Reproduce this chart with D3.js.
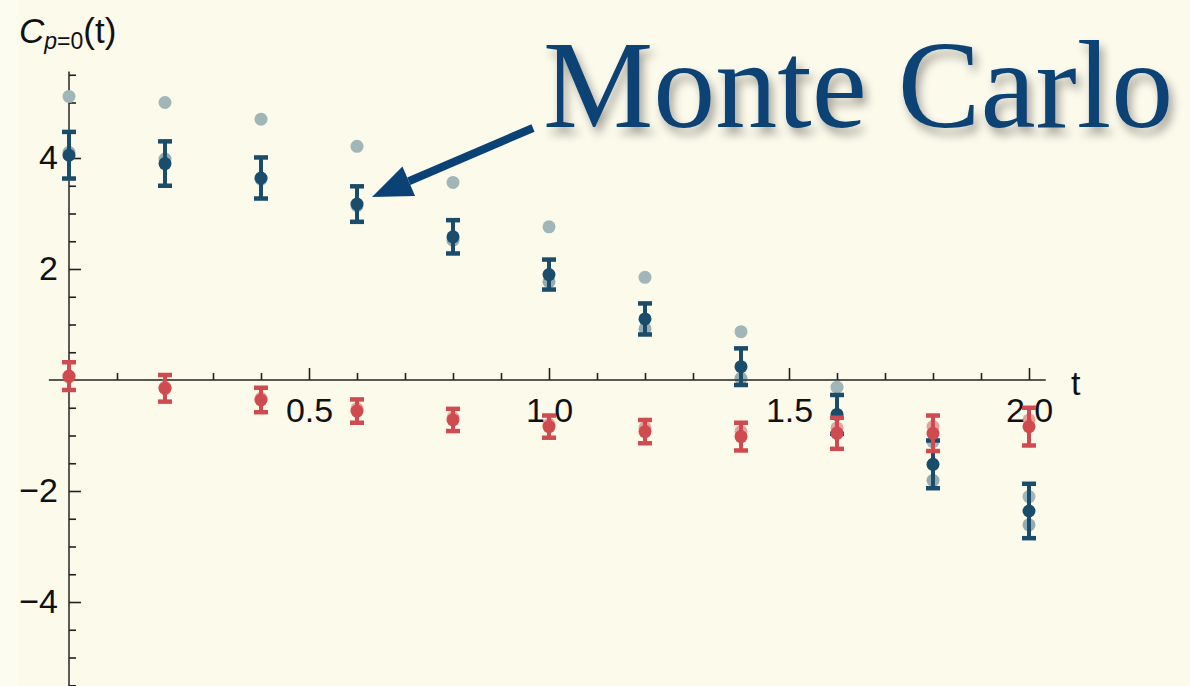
<!DOCTYPE html>
<html>
<head>
<meta charset="utf-8">
<script src="https://cdn.jsdelivr.net/npm/d3@7"></script>
<style>
  html, body { margin: 0; padding: 0; background: #fcfaeb; }
  svg { display: block; }
</style>
</head>
<body>
<svg id="chart" width="1190" height="686"></svg>
<script>
// Euclidean time steps
const times = [0, 0.2, 0.4, 0.6, 0.8, 1.0, 1.2, 1.4, 1.6, 1.8, 2.0];

// Monte Carlo estimate (with statistical errors)
const mcMean = [4.05, 3.90, 3.64, 3.17, 2.58, 1.90, 1.10, 0.24, -0.62, -1.52, -2.36];
const mcErr  = [0.42, 0.40, 0.37, 0.32, 0.30, 0.27, 0.28, 0.33, 0.35, 0.43, 0.49];

// Reference curves drawn as faded points
const upperRef = [5.11, 5.00, 4.70, 4.21, 3.56, 2.76, 1.85, 0.87, -0.13, -1.11, -2.10];
const lowerRef = [4.10, 3.98, 3.62, 3.14, 2.52, 1.77, 0.92, 0.03, -0.95, -1.81, -2.61];

// Second correlator (red)
const redMean  = [0.07, -0.15, -0.36, -0.56, -0.72, -0.84, -0.93, -1.02, -0.96, -0.96, -0.84];
const redErr   = [0.25, 0.24, 0.22, 0.21, 0.20, 0.20, 0.21, 0.25, 0.28, 0.32, 0.34];
const redFaded = [0.05, -0.13, -0.33, -0.52, -0.68, -0.80, -0.86, -0.93, -0.86, -0.84, -0.72];

// Tick values
const xMajor = [0.5, 1.0, 1.5, 2.0];
const yMajor = [-4, -2, 2, 4];

const svg = d3.select("#chart");
const W = 1190, H = 686;

const BLUE = "#1a4d6b", GRAY = "#a0b6b9", RED = "#d04b50", INK = "#0b4275";
const FONT = "'Liberation Sans', Arial, sans-serif";

svg.append("rect").attr("width", W).attr("height", H).attr("fill", "#fcfaeb");
svg.append("rect").attr("width", 17).attr("height", H).attr("fill", "#fdfcf1");

const x = d3.scaleLinear().domain([0, 2]).range([69, 1029]);
const y = d3.scaleLinear().domain([0, 4]).range([380, 158]);

const defs = svg.append("defs");
const shadow = defs.append("filter").attr("id", "titleShadow")
  .attr("x", "-10%").attr("y", "-20%").attr("width", "125%").attr("height", "150%");
shadow.append("feDropShadow").attr("dx", 4).attr("dy", 7).attr("stdDeviation", 5)
  .attr("flood-color", "#000").attr("flood-opacity", 0.35);

// ---- axes ----
const axes = svg.append("g");

// x axis line
axes.append("line")
  .attr("x1", x(-0.042)).attr("x2", x(2.035))
  .attr("y1", y(0)).attr("y2", y(0))
  .attr("stroke", "#222").attr("stroke-width", 1.6);

// y axis line
axes.append("line")
  .attr("x1", x(0)).attr("x2", x(0))
  .attr("y1", y(5.56)).attr("y2", y(-5.7))
  .attr("stroke", "#333").attr("stroke-width", 1.6);

// x minor ticks
const xMinor = d3.range(1, 21).map(i => i / 10).filter(v => Math.abs(v * 2 - Math.round(v * 2)) > 1e-6);
const xMinorAxis = d3.axisBottom(x).tickValues(xMinor).tickSize(-7).tickFormat("");
const gxm = axes.append("g").attr("transform", `translate(0,${y(0)})`).call(xMinorAxis);
gxm.select(".domain").remove();

// x major ticks + labels
const xAxis = d3.axisBottom(x).tickValues(xMajor).tickSize(-12).tickPadding(18)
  .tickFormat(d3.format(".1f"));
const gx = axes.append("g").attr("transform", `translate(0,${y(0)})`).call(xAxis);
gx.select(".domain").remove();

// y minor ticks
const yMinor = d3.range(-11, 12).map(i => i / 2).filter(v => v !== 0 && Math.abs(v % 2) > 1e-6);
const yMinorAxis = d3.axisLeft(y).tickValues(yMinor).tickSize(-7).tickFormat("");
const gym = axes.append("g").attr("transform", `translate(${x(0)},0)`).call(yMinorAxis);
gym.select(".domain").remove();

// y major ticks + labels
const yAxis = d3.axisLeft(y).tickValues(yMajor).tickSize(-12).tickPadding(11)
  .tickFormat(d => d < 0 ? "\u2212" + Math.abs(d) : String(d));
const gy = axes.append("g").attr("transform", `translate(${x(0)},0)`).call(yAxis);
gy.select(".domain").remove();

svg.selectAll(".tick line").attr("stroke", "#222").attr("stroke-width", 1.6);

// ---- data ----
const plot = svg.append("g");

function points(vals, color, opacity) {
  plot.append("g").selectAll("circle").data(vals).join("circle")
    .attr("cx", (d, i) => x(times[i]))
    .attr("cy", d => y(d))
    .attr("r", 6.5)
    .attr("fill", color)
    .attr("fill-opacity", opacity);
}

function errorBars(means, errs, color) {
  const g = plot.append("g").attr("stroke", color);
  const rows = means.map((m, i) => ({ t: times[i], lo: m - errs[i], hi: m + errs[i] }));
  g.selectAll("line.stem").data(rows).join("line").attr("class", "stem")
    .attr("x1", d => x(d.t)).attr("x2", d => x(d.t))
    .attr("y1", d => y(d.hi)).attr("y2", d => y(d.lo))
    .attr("stroke-width", 4);
  ["hi", "lo"].forEach(k => {
    g.selectAll("line.cap-" + k).data(rows).join("line").attr("class", "cap-" + k)
      .attr("x1", d => x(d.t) - 7).attr("x2", d => x(d.t) + 7)
      .attr("y1", d => y(d[k])).attr("y2", d => y(d[k]))
      .attr("stroke-width", 4.5);
  });
}

points(upperRef, GRAY, 1);
points(lowerRef, BLUE, 0.45);
errorBars(mcMean, mcErr, BLUE);
points(mcMean, BLUE, 1);

points(redFaded, RED, 0.5);
errorBars(redMean, redErr, RED);
points(redMean, RED, 1);

// tick labels on top of the markers
svg.selectAll(".tick text")
  .attr("font-family", FONT).attr("font-size", 34).attr("fill", "#111");
gx.raise(); gy.raise();

// ---- axis titles ----
const yTitle = svg.append("text").attr("x", 19).attr("y", 43)
  .attr("font-family", FONT).attr("font-size", 35).attr("fill", "#111");
yTitle.append("tspan").attr("font-style", "italic").text("C");
yTitle.append("tspan").attr("font-style", "italic").attr("font-size", 23).attr("dy", 6).text("p");
yTitle.append("tspan").attr("font-size", 23).text("=0");
yTitle.append("tspan").attr("dy", -6).text("(t)");

svg.append("text").attr("x", 1071).attr("y", 395)
  .attr("font-family", FONT).attr("font-size", 34).attr("fill", "#111").text("t");

// ---- annotation ----
const tip = [372, 197], tail = [533, 128];
const ang = Math.atan2(tail[1] - tip[1], tail[0] - tip[0]);
const headLen = 40, headHalf = 16;
const bx = tip[0] + headLen * Math.cos(ang), by = tip[1] + headLen * Math.sin(ang);
const nx = -Math.sin(ang), ny = Math.cos(ang);

svg.append("line")
  .attr("x1", tail[0]).attr("y1", tail[1]).attr("x2", bx).attr("y2", by)
  .attr("stroke", INK).attr("stroke-width", 8);
svg.append("path")
  .attr("d", d3.line()([tip, [bx + nx * headHalf, by + ny * headHalf], [bx - nx * headHalf, by - ny * headHalf]]) + "Z")
  .attr("fill", INK);

svg.append("text").attr("x", 543).attr("y", 127)
  .attr("font-family", "'Liberation Serif', 'Times New Roman', serif")
  .attr("font-size", 124).attr("fill", INK)
  .attr("filter", "url(#titleShadow)")
  .text("Monte Carlo");
</script>
</body>
</html>
